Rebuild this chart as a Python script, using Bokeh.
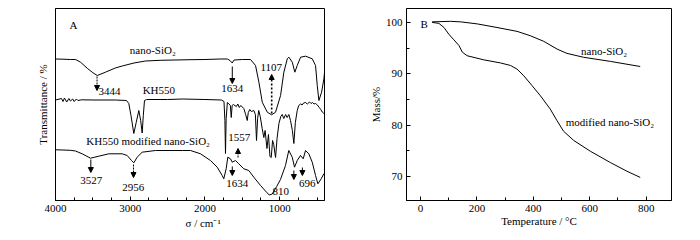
from bokeh.plotting import figure
from bokeh.layouts import row
from bokeh.models import Range1d, FixedTicker, Label, Arrow, NormalHead, Title
from bokeh.embed import file_html
from bokeh.resources import INLINE

FONT = "Liberation Serif"

# ---------------- Panel A: FTIR spectra (transmittance, arbitrary offset units) ----------------
nano_wn = [4000, 3900, 3800, 3730, 3665, 3576, 3509, 3442, 3331, 3200, 3107, 2950, 2796, 2600,
           2400, 2200, 2000, 1800, 1700, 1665, 1635, 1610, 1500, 1390, 1323, 1278, 1233, 1166,
           1108, 1055, 988, 944, 898, 877, 831, 797, 765, 720, 653, 564, 520, 497, 475, 439, 408, 400]
nano_t = [141.5, 141.3, 141.0, 141.0, 138.3, 132.3, 128.3, 125.0, 128.3, 132.5, 134.5, 137.5, 139.5, 140.2,
          140.5, 140.8, 141.0, 141.5, 141.5, 140.0, 137.5, 140.5, 141.0, 141.0, 135.0, 118.3, 98.3, 88.3,
          85.7, 88.3, 105.0, 128.3, 141.7, 143.3, 138.3, 128.3, 135.0, 143.3, 144.3, 141.7, 135.0, 115.0,
          100.0, 108.3, 121.7, 128.0]

kh_wn = [4000, 3920, 3900, 3880, 3850, 3820, 3800, 3770, 3750, 3720, 3700, 3650, 3500, 3200, 3050,
         3019, 2990, 2952, 2920, 2885, 2860, 2840, 2825, 2809, 2780, 2500, 2300, 2000, 1780, 1745,
         1733, 1725, 1716, 1700, 1680, 1660, 1648, 1636, 1620, 1580, 1560, 1540, 1520, 1480, 1455,
         1434, 1420, 1400, 1380, 1345, 1325, 1310, 1295, 1280, 1260, 1234, 1212, 1195, 1170, 1150,
         1130, 1113, 1095, 1080, 1055, 1035, 1010, 985, 966, 945, 920, 900, 877, 855, 830, 810, 790,
         765, 745, 720, 700, 680, 653, 630, 600, 580, 560, 540, 520, 495, 470, 450, 430, 400]
kh_t = [100.5, 102.0, 99.0, 102.5, 98.5, 102.0, 99.5, 101.5, 99.0, 101.5, 100.0, 100.7, 100.5, 100.5, 100.0,
        97.0, 85.0, 67.0, 78.0, 90.0, 80.0, 67.5, 85.0, 100.0, 101.0, 101.0, 101.5, 101.0, 100.5, 99.0,
        80.0, 47.0, 82.0, 98.0, 96.7, 95.0, 83.0, 95.0, 96.0, 94.0, 96.5, 93.0, 95.0, 92.0, 86.0,
        80.0, 88.0, 91.0, 89.0, 90.0, 86.0, 60.0, 82.0, 90.0, 84.0, 72.0, 63.0, 70.0, 52.0, 66.0,
        44.0, 43.0, 60.0, 56.0, 43.0, 62.0, 77.0, 84.0, 86.0, 82.0, 86.0, 83.0, 86.0, 80.0, 70.0, 57.0, 78.0,
        90.0, 95.0, 96.5, 95.5, 97.5, 98.0, 96.5, 98.5, 97.0, 98.0, 96.5, 97.0, 95.5, 93.0, 91.0, 88.5, 86.5]

mod_wn = [4000, 3900, 3800, 3732, 3643, 3532, 3420, 3287, 3107, 3040, 2983, 2952, 2907, 2840, 2662,
          2304, 2193, 2059, 1926, 1836, 1769, 1748, 1716, 1694, 1658, 1635, 1591, 1547, 1480, 1413,
          1346, 1256, 1190, 1140, 1100, 1040, 989, 922, 878, 832, 801, 765, 721, 685, 654, 610, 564, 520,
          489, 444, 409, 400]
mod_t = [50.7, 50.5, 50.2, 49.5, 46.7, 42.3, 44.3, 46.7, 46.7, 45.0, 40.0, 37.7, 43.3, 48.3, 50.0,
         50.0, 50.0, 46.7, 40.0, 33.3, 25.0, 21.7, 31.7, 43.3, 41.7, 38.3, 40.0, 36.7, 31.7, 30.0,
         23.3, 15.0, 9.5, 5.5, 6.5, 14.0, 21.0, 35.0, 50.0, 43.3, 33.3, 40.0, 45.0, 41.7, 50.0, 46.7, 38.3, 25.0,
         16.7, 21.7, 26.7, 27.0]

a_ticks = [4000, 3000, 2000, 1000]
a_tick_labels = ["4000", "3000", "2000", "1000"]
a_minor = [3750, 3500, 3250, 2750, 2500, 2250, 1750, 1500, 1250, 750, 500]

peak_wn = [3444, 1634, 1107, 1557, 3527, 2956, 1634, 810, 696]
peak_lbl = ["3444", "1634", "1107", "1557", "3527", "2956", "1634", "810", "696"]

# ---------------- Panel B: TGA ----------------
tga_nano_T = [41, 106, 142, 201, 271, 342, 389, 437, 484, 519, 578, 673, 779]
tga_nano_m = [100.1, 100.2, 100.1, 99.7, 99.0, 98.25, 97.4, 96.3, 94.8, 93.96, 93.2, 92.4, 91.4]

tga_mod_T = [41, 65, 83, 100, 118, 136, 148, 165, 224, 283, 319, 342, 366, 395, 425, 460, 484,
             507, 543, 602, 673, 732, 779]
tga_mod_m = [100.0, 99.8, 99.0, 97.7, 96.6, 95.5, 94.2, 93.5, 92.7, 92.1, 91.6, 90.9, 89.6, 87.7,
             85.7, 83.1, 80.85, 78.8, 77.0, 74.9, 72.7, 71.0, 69.8]

b_xticks = [0, 200, 400, 600, 800]
b_xminor = [100, 300, 500, 700]
b_yticks = [70, 80, 90, 100]
b_yminor = [75, 85, 95]


def style(p):
    p.grid.visible = False
    p.outline_line_color = "black"
    p.outline_line_width = 1
    p.outline_line_alpha = 1
    p.background_fill_color = "white"
    p.border_fill_color = "white"
    for ax in p.axis:
        ax.axis_line_color = "black"
        ax.major_tick_line_color = "black"
        ax.minor_tick_line_color = "black"
        ax.major_tick_in = 4
        ax.major_tick_out = 0
        ax.minor_tick_in = 3
        ax.minor_tick_out = 0
        ax.major_label_text_font = FONT
        ax.major_label_text_font_size = "11px"
        ax.major_label_text_color = "black"
        ax.axis_label_text_font = FONT
        ax.axis_label_text_font_size = "11px"
        ax.axis_label_text_font_style = "normal"
        ax.axis_label_text_color = "black"
        ax.major_label_standoff = 4
        ax.axis_label_standoff = 1


def lab(p, x, y, text, align="center", style_="normal"):
    p.add_layout(Label(x=x, y=y, text=text, text_font=FONT, text_font_size="11px",
                       text_align=align, text_baseline="middle", text_color="black",
                       text_font_style=style_))


def arr(p, x, y0, y1, dash="solid", lw=1):
    p.add_layout(Arrow(end=NormalHead(size=5, fill_color="black", line_color="black", line_width=1),
                       x_start=x, y_start=y0, x_end=x, y_end=y1,
                       line_color="black", line_width=lw, line_dash=dash))


# ---------- figure A ----------
pA = figure(width=350, height=240, x_range=Range1d(4000, 400), y_range=Range1d(0, 192),
            output_backend="svg", toolbar_location=None,
            min_border_left=55, min_border_right=26, min_border_top=8, min_border_bottom=40)
style(pA)
pA.xaxis.ticker = FixedTicker(ticks=a_ticks, minor_ticks=a_minor)
pA.xaxis.major_label_overrides = {t: s for t, s in zip(a_ticks, a_tick_labels)}
pA.yaxis.ticker = FixedTicker(ticks=[], minor_ticks=[])
pA.yaxis.axis_label = "Transmittance / %"
pA.yaxis.axis_label_standoff = 7

for xs, ys in [(nano_wn, nano_t), (kh_wn, kh_t), (mod_wn, mod_t)]:
    pA.line(xs, ys, line_color="black", line_width=1)

lab(pA, 3813, 175.5, "A", "left")
lab(pA, 2698, 150.7, "nano-SiO₂")
lab(pA, 2617, 110.7, "KH550")
lab(pA, 2760, 60, "KH550 modified nano-SiO₂")

# peak labels and arrows
lab(pA, 3425, 109, peak_lbl[0], "left")
arr(pA, peak_wn[0], 124, 110, "2 1")
lab(pA, 1635, 111.7, peak_lbl[1])
arr(pA, peak_wn[1], 134, 117)
lab(pA, 1113, 133.3, peak_lbl[2])
arr(pA, peak_wn[2], 87, 126, "2 2", 1.6)
lab(pA, 1541, 62.7, peak_lbl[3])
arr(pA, peak_wn[3], 43, 52, "2 1")
lab(pA, 3522, 20, peak_lbl[4])
arr(pA, peak_wn[4], 41, 28)
lab(pA, 2960, 13.3, peak_lbl[5])
arr(pA, peak_wn[5], 36, 23, "2 1")
lab(pA, 1568, 17.3, peak_lbl[6])
arr(pA, peak_wn[6], 34, 25)
lab(pA, 985, 9.5, peak_lbl[7])
arr(pA, peak_wn[7], 30, 21)
lab(pA, 632, 17.3, peak_lbl[8])
arr(pA, peak_wn[8], 33, 25)

# x-axis title, placed below the axis and shifted right as in the original
pA.add_layout(Title(text="σ / cm⁻¹", align="left", offset=130, text_font=FONT,
                    text_font_size="11px", text_font_style="normal", text_color="black",
                    standoff=0), "below")

# ---------- figure B ----------
pB = figure(width=350, height=240, x_range=Range1d(-50, 890), y_range=Range1d(65.3, 102.7),
            output_backend="svg", toolbar_location=None,
            min_border_left=56, min_border_right=29, min_border_top=8, min_border_bottom=40)
style(pB)
pB.xaxis.ticker = FixedTicker(ticks=b_xticks, minor_ticks=b_xminor)
pB.yaxis.ticker = FixedTicker(ticks=b_yticks, minor_ticks=b_yminor)
pB.xaxis.axis_label = "Temperature / °C"
pB.yaxis.axis_label = "Mass/%"
pB.xaxis.axis_label_standoff = 0
pB.yaxis.axis_label_standoff = 1

pB.line(tga_nano_T, tga_nano_m, line_color="black", line_width=1)
pB.line(tga_mod_T, tga_mod_m, line_color="black", line_width=1)

lab(pB, 0, 99.6, "B", "left")
lab(pB, 651, 94.5, "nano-SiO₂")
lab(pB, 671.5, 80.5, "modified nano-SiO₂")

layout = row(pA, pB)
open("out.html", "w").write(file_html(layout, INLINE))
